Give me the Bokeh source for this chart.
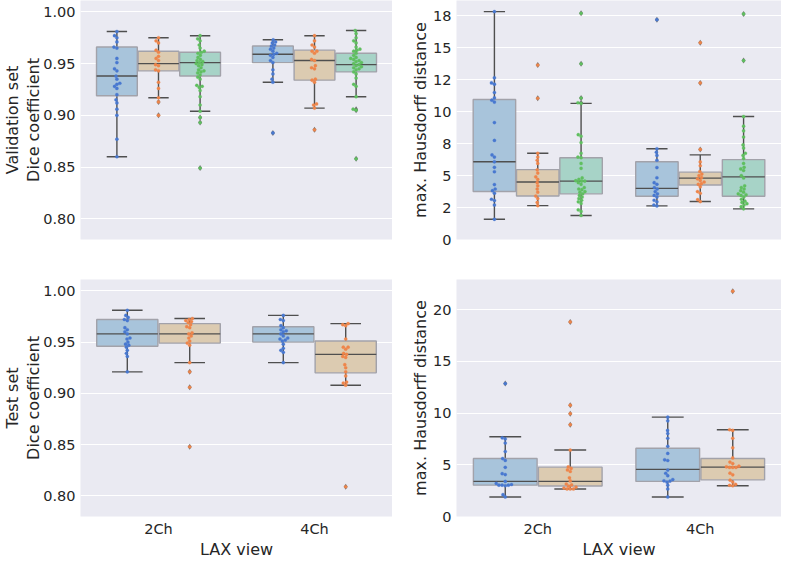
import numpy as np
from bokeh.plotting import figure
from bokeh.layouts import gridplot
from bokeh.models import Range1d, FixedTicker, ColumnDataSource, NumeralTickFormatter
from bokeh.embed import file_html
from bokeh.resources import INLINE

# ---------------- data ----------------
views = ["2Ch", "4Ch"]
view_pos = [0, 1]

# Validation set, Dice coefficient (3 methods per view)
val_dice_2ch_m1 = [0.981, 0.977, 0.975, 0.971, 0.966, 0.965, 0.955, 0.951, 0.945, 0.943, 0.938, 0.935,
                   0.931, 0.930, 0.928, 0.926, 0.920, 0.915, 0.912, 0.906, 0.900, 0.877, 0.860]
val_dice_2ch_m2 = [0.975, 0.972, 0.970, 0.963, 0.961, 0.957, 0.955, 0.953, 0.949, 0.948, 0.944, 0.943,
                   0.932, 0.926, 0.917, 0.913, 0.900]
val_dice_2ch_m3 = [0.977, 0.974, 0.972, 0.968, 0.965, 0.962, 0.961, 0.960, 0.958, 0.956, 0.954, 0.953,
                   0.952, 0.951, 0.950, 0.949, 0.948, 0.946, 0.944, 0.943, 0.942, 0.941, 0.939, 0.937,
                   0.935, 0.929, 0.928, 0.927, 0.924, 0.918, 0.910, 0.904, 0.898, 0.893, 0.849]
val_dice_4ch_m1 = [0.973, 0.971, 0.970, 0.968, 0.967, 0.965, 0.964, 0.962, 0.960, 0.959, 0.958, 0.956,
                   0.953, 0.951, 0.944, 0.940, 0.935, 0.932, 0.883]
val_dice_4ch_m2 = [0.977, 0.972, 0.968, 0.966, 0.962, 0.962, 0.960, 0.954, 0.953, 0.948, 0.946, 0.945,
                   0.935, 0.934, 0.932, 0.911, 0.910, 0.907, 0.886]
val_dice_4ch_m3 = [0.982, 0.979, 0.975, 0.972, 0.970, 0.966, 0.964, 0.963, 0.962, 0.960, 0.958, 0.956,
                   0.955, 0.954, 0.953, 0.952, 0.951, 0.950, 0.949, 0.948, 0.947, 0.946, 0.945, 0.944,
                   0.942, 0.940, 0.936, 0.930, 0.928, 0.918, 0.906, 0.905, 0.858]
# box stats: [lower whisker, q1, median, q3, upper whisker]
val_dice_box_2ch = [[0.860, 0.919, 0.938, 0.966, 0.981],
                    [0.917, 0.943, 0.950, 0.962, 0.975],
                    [0.904, 0.938, 0.951, 0.961, 0.977]]
val_dice_box_4ch = [[0.932, 0.951, 0.959, 0.967, 0.973],
                    [0.907, 0.934, 0.953, 0.963, 0.977],
                    [0.918, 0.942, 0.949, 0.960, 0.982]]

# Validation set, max. Hausdorff distance
val_hd_2ch_m1 = [17.83, 12.65, 12.25, 12.15, 11.50, 11.08, 10.90, 10.75, 9.15, 7.75, 6.62, 6.45,
                 6.08, 5.65, 5.30, 4.30, 3.95, 3.82, 3.62, 3.15, 3.05, 2.70, 1.58]
val_hd_2ch_m2 = [13.65, 11.05, 6.75, 6.45, 6.20, 5.95, 5.45, 5.20, 4.90, 4.70, 4.45, 4.20,
                 3.95, 3.70, 3.40, 3.20, 2.90, 2.65]
val_hd_2ch_m3 = [17.70, 13.75, 11.07, 10.70, 10.65, 8.20, 8.08, 7.58, 6.75, 6.45, 6.40, 5.95,
                 5.57, 4.82, 4.70, 4.60, 4.57, 4.57, 4.45, 4.32, 4.07, 3.95, 3.90, 3.75, 3.70,
                 3.57, 3.45, 3.32, 3.20, 3.07, 2.95, 2.82, 2.32, 2.20, 1.88]
val_hd_4ch_m1 = [17.20, 7.10, 6.83, 6.58, 6.20, 5.63, 4.83, 4.45, 4.32, 4.07, 3.95, 3.75,
                 3.57, 3.45, 3.32, 3.07, 2.95, 2.70, 2.63]
val_hd_4ch_m2 = [15.40, 12.25, 7.05, 6.07, 5.77, 5.32, 5.12, 5.00, 4.85, 4.75, 4.62, 4.50,
                 4.37, 4.32, 4.12, 3.75, 3.62, 3.12, 2.97]
val_hd_4ch_m3 = [17.65, 14.00, 9.62, 8.87, 8.50, 8.02, 7.40, 7.15, 6.75, 6.58, 6.33, 5.95,
                 5.65, 5.52, 5.40, 5.00, 4.82, 4.20, 4.07, 3.95, 3.82, 3.70, 3.57, 3.50, 3.45,
                 3.32, 3.15, 3.00, 2.90, 2.80, 2.70, 2.57, 2.40]
val_hd_box_2ch = [[1.58, 3.75, 6.08, 10.95, 17.83],
                  [2.65, 3.40, 4.50, 5.47, 6.75],
                  [1.88, 3.57, 4.57, 6.40, 10.65]]
val_hd_box_4ch = [[2.63, 3.38, 4.00, 6.08, 7.10],
                  [2.97, 4.27, 4.80, 5.27, 6.62],
                  [2.40, 3.38, 4.90, 6.25, 9.62]]

# Test set, Dice coefficient (2 methods per view)
test_dice_2ch_m1 = [0.981, 0.976, 0.974, 0.972, 0.971, 0.964, 0.962, 0.960, 0.958, 0.954, 0.953,
                    0.950, 0.948, 0.947, 0.945, 0.942, 0.939, 0.936, 0.921]
test_dice_2ch_m2 = [0.973, 0.972, 0.971, 0.970, 0.969, 0.967, 0.965, 0.964, 0.959, 0.958, 0.956,
                    0.954, 0.951, 0.949, 0.947, 0.930, 0.921, 0.906, 0.848]
test_dice_4ch_m1 = [0.976, 0.972, 0.971, 0.966, 0.964, 0.962, 0.961, 0.960, 0.958, 0.956, 0.954,
                    0.953, 0.952, 0.951, 0.948, 0.944, 0.942, 0.940, 0.930]
test_dice_4ch_m2 = [0.968, 0.967, 0.966, 0.953, 0.945, 0.945, 0.943, 0.939, 0.938, 0.936, 0.935,
                    0.928, 0.925, 0.921, 0.917, 0.911, 0.910, 0.908, 0.809]
test_dice_box_2ch = [[0.921, 0.946, 0.958, 0.972, 0.981],
                     [0.930, 0.949, 0.958, 0.968, 0.973]]
test_dice_box_4ch = [[0.930, 0.950, 0.958, 0.965, 0.976],
                     [0.908, 0.920, 0.938, 0.951, 0.968]]

# Test set, max. Hausdorff distance
test_hd_2ch_m1 = [12.84, 7.60, 7.50, 7.10, 6.28, 5.60, 5.42, 4.75, 4.14, 4.05, 3.39, 3.20,
                  3.09, 3.03, 3.03, 3.03, 2.97, 2.11, 1.89]
test_hd_2ch_m2 = [18.80, 10.76, 9.94, 8.87, 6.42, 4.80, 4.65, 4.50, 4.35, 3.74, 3.44, 3.14,
                  3.05, 2.93, 2.84, 2.75, 2.66, 2.66, 2.66]
test_hd_4ch_m1 = [9.60, 9.24, 8.32, 8.01, 7.56, 6.79, 6.09, 5.48, 5.41, 4.49, 4.18, 3.94,
                  3.57, 3.45, 3.42, 3.33, 3.03, 2.66, 1.89]
test_hd_4ch_m2 = [21.77, 8.38, 8.32, 7.56, 6.64, 5.66, 5.26, 5.11, 4.86, 4.80, 4.74, 4.74,
                  4.74, 4.19, 4.03, 3.51, 3.33, 3.11, 3.02, 2.97]
test_hd_box_2ch = [[1.89, 3.03, 3.39, 5.60, 7.70],
                   [2.66, 2.94, 3.39, 4.77, 6.42]]
test_hd_box_4ch = [[1.89, 3.39, 4.55, 6.60, 9.60],
                   [2.97, 3.54, 4.77, 5.60, 8.38]]

dice_ticks = [0.80, 0.85, 0.90, 0.95, 1.00]
val_hd_ticks = [0.0, 2.5, 5.0, 7.5, 10.0, 12.5, 15.0, 17.5]
val_hd_tick_labels = ["0", "2", "5", "8", "10", "12", "15", "18"]
test_hd_ticks = [0, 5, 10, 15, 20]

# ---------------- style ----------------
point_colors = ["#4878d0", "#ee854a", "#5fbf5f"]
box_fills = ["#a8c4db", "#dccbb1", "#a7d3c7"]
box_edge = "#a2a2aa"
line_col = "#4f4f4f"
txt = "#262626"
FONT = "DejaVu Sans"
BG = "#eaeaf2"
PT = 3.2


def swarm_offsets(vals, ky, kx, d):
    vals = np.asarray(vals, dtype=float)
    order = np.argsort(vals)
    placed = []
    offs = np.zeros(len(vals))
    for i in order:
        y = vals[i] * ky
        cands = [0.0]
        for (py, px) in placed:
            dy = abs(py - y)
            if dy < d:
                dx = np.sqrt(d * d - dy * dy)
                cands += [px + dx, px - dx]
        cands.sort(key=lambda c: (abs(c), c))
        chosen = 0.0
        for c in cands:
            if all((c - px) ** 2 + (y - py) ** 2 >= d * d - 1e-6 for (py, px) in placed):
                chosen = c
                break
        placed.append((y, chosen))
        offs[i] = chosen / kx
    return offs


def make_fig(width, height, yr, mbl, mbb, show_x, ylab_standoff):
    p = figure(width=width, height=height, x_range=Range1d(-0.5, 1.5), y_range=Range1d(*yr),
               output_backend="svg", toolbar_location=None,
               min_border_left=mbl, min_border_right=0, min_border_top=0, min_border_bottom=mbb,
               background_fill_color=BG, border_fill_color="white", outline_line_color=None)
    p.xgrid.visible = False
    p.ygrid.grid_line_color = "white"
    p.ygrid.grid_line_width = 1
    for ax in p.axis:
        ax.axis_line_color = None
        ax.major_tick_line_color = None
        ax.minor_tick_line_color = None
        ax.major_tick_in = 0
        ax.major_tick_out = 0
        ax.minor_tick_in = 0
        ax.minor_tick_out = 0
        ax.major_label_text_font = FONT
        ax.major_label_text_font_size = "14.5px"
        ax.major_label_text_color = txt
        ax.axis_label_text_font = FONT
        ax.axis_label_text_font_size = "16px"
        ax.axis_label_text_font_style = "normal"
        ax.axis_label_text_color = txt
        ax.axis_label_text_line_height = 1.1
        ax.major_label_standoff = 5
    p.yaxis.axis_label_standoff = ylab_standoff
    p.xaxis.ticker = FixedTicker(ticks=view_pos)
    p.xaxis.major_label_overrides = {pos: v for pos, v in zip(view_pos, views)}
    if show_x:
        p.xaxis.axis_label = "LAX view"
        p.xaxis.axis_label_standoff = 0
        p.xaxis.major_label_standoff = 4
    else:
        p.xaxis.visible = False
    return p


def draw_groups(p, groups, boxes, ky, kx):
    n = len(groups[0])
    w = 0.8 / n
    bw = w * 0.98
    for vi, (vals_list, box_list) in enumerate(zip(groups, boxes)):
        for mi in range(n):
            center = view_pos[vi] - 0.4 + w * (mi + 0.5)
            lo, q1, med, q3, hi = box_list[mi]
            src = ColumnDataSource(dict(x0=[center, center], y0=[lo, q3], x1=[center, center], y1=[q1, hi]))
            p.segment("x0", "y0", "x1", "y1", source=src, line_color=line_col, line_width=1.4)
            src = ColumnDataSource(dict(x0=[center - bw / 4] * 2, x1=[center + bw / 4] * 2, y=[lo, hi]))
            p.segment("x0", "y", "x1", "y", source=src, line_color=line_col, line_width=1.4)
            p.quad(left=[center - bw / 2], right=[center + bw / 2], bottom=[q1], top=[q3],
                   fill_color=box_fills[mi], line_color=box_edge, line_width=1.4)
            p.segment(x0=[center - bw / 2], x1=[center + bw / 2], y0=[med], y1=[med],
                      line_color=line_col, line_width=1.4)
    for vi, (vals_list, box_list) in enumerate(zip(groups, boxes)):
        for mi in range(n):
            center = view_pos[vi] - 0.4 + w * (mi + 0.5)
            vals = np.asarray(vals_list[mi], dtype=float)
            lo, hi = box_list[mi][0], box_list[mi][4]
            out = vals[(vals < lo - 1e-9) | (vals > hi + 1e-9)]
            if len(out):
                p.scatter(x=[center] * len(out), y=out, marker="diamond", size=6,
                          fill_color="#5a5a5a", line_color=None, fill_alpha=0.8)
            offs = swarm_offsets(vals, ky, kx, PT)
            p.scatter(x=center + offs, y=vals, size=PT, fill_color=point_colors[mi],
                      line_color=point_colors[mi], line_width=0.3)


# layout sizes
W_L, W_R = 392, 389
H_T, H_B = 279, 282
MBL_L, MBL_R = 71, 64
MB_T, MB_B = 40, 43
PH = 236
kx_l = (W_L - MBL_L) / 2.0
kx_r = (W_R - MBL_R) / 2.0

dice_range = (0.780, 1.011)
val_hd_range = (0.0, 18.7)
test_hd_range = (0.0, 22.9)

p1 = make_fig(W_L, H_T, dice_range, MBL_L, MB_T, False, -3)
p1.yaxis.ticker = FixedTicker(ticks=dice_ticks)
p1.yaxis.formatter = NumeralTickFormatter(format="0.00")
p1.yaxis.axis_label = "Validation set\nDice coefficient"
draw_groups(p1,
            [[val_dice_2ch_m1, val_dice_2ch_m2, val_dice_2ch_m3],
             [val_dice_4ch_m1, val_dice_4ch_m2, val_dice_4ch_m3]],
            [val_dice_box_2ch, val_dice_box_4ch],
            PH / (dice_range[1] - dice_range[0]), kx_l)

p2 = make_fig(W_R, H_T, val_hd_range, MBL_R, MB_T, False, 0)
p2.yaxis.ticker = FixedTicker(ticks=val_hd_ticks)
p2.yaxis.major_label_overrides = {t: l for t, l in zip(val_hd_ticks, val_hd_tick_labels)}
p2.yaxis.axis_label = "max. Hausdorff distance"
draw_groups(p2,
            [[val_hd_2ch_m1, val_hd_2ch_m2, val_hd_2ch_m3],
             [val_hd_4ch_m1, val_hd_4ch_m2, val_hd_4ch_m3]],
            [val_hd_box_2ch, val_hd_box_4ch],
            PH / (val_hd_range[1] - val_hd_range[0]), kx_r)

p3 = make_fig(W_L, H_B, dice_range, MBL_L, MB_B, True, -3)
p3.yaxis.ticker = FixedTicker(ticks=dice_ticks)
p3.yaxis.formatter = NumeralTickFormatter(format="0.00")
p3.yaxis.axis_label = "Test set\nDice coefficient"
draw_groups(p3,
            [[test_dice_2ch_m1, test_dice_2ch_m2],
             [test_dice_4ch_m1, test_dice_4ch_m2]],
            [test_dice_box_2ch, test_dice_box_4ch],
            PH / (dice_range[1] - dice_range[0]), kx_l)

p4 = make_fig(W_R, H_B, test_hd_range, MBL_R, MB_B, True, 0)
p4.yaxis.ticker = FixedTicker(ticks=test_hd_ticks)
p4.yaxis.axis_label = "max. Hausdorff distance"
draw_groups(p4,
            [[test_hd_2ch_m1, test_hd_2ch_m2],
             [test_hd_4ch_m1, test_hd_4ch_m2]],
            [test_hd_box_2ch, test_hd_box_4ch],
            PH / (test_hd_range[1] - test_hd_range[0]), kx_r)

grid = gridplot([[p1, p2], [p3, p4]], toolbar_location=None)

open("out.html", "w").write(file_html(grid, INLINE))
